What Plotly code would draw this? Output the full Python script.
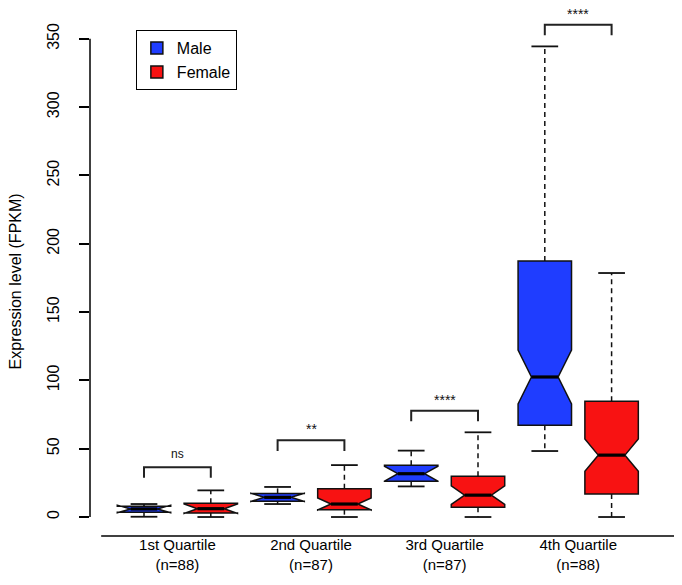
import plotly.graph_objects as go

# ---- data ----
groups = ["1st Quartile", "2nd Quartile", "3rd Quartile", "4th Quartile"]
group_n = [88, 87, 87, 88]

male_min = [0.2, 9.5, 22.4, 48.3]
male_q1 = [3.4, 11.5, 26.1, 67.1]
male_med = [5.9, 14.4, 31.7, 102.5]
male_q3 = [7.8, 17.3, 37.8, 187.4]
male_max = [9.5, 22.0, 48.6, 344.5]
male_notch = [2.8, 3.0, 5.5, 19.7]

female_min = [0.0, 0.0, 0.0, 0.0]
female_q1 = [2.9, 5.4, 7.1, 16.8]
female_med = [6.1, 9.5, 16.0, 45.3]
female_q3 = [10.0, 20.7, 29.8, 84.7]
female_max = [19.5, 38.0, 62.0, 178.6]
female_notch = [3.5, 4.4, 6.8, 11.8]

sig_labels = ["ns", "**", "****", "****"]
bracket_top = [36.4, 56.1, 77.8, 360.4]

y_ticks = [0, 50, 100, 150, 200, 250, 300, 350]

# ---- styling ----
FONT = "Liberation Sans, Arial, sans-serif"
BLUE = "#1f3dff"
RED = "#f81212"
BOX_W = 0.8
CAP_HALF = 0.2
MED_HALF = 0.2
LEG_DROP = 7.7

male_x = [2 * i + 1 for i in range(len(groups))]
female_x = [2 * i + 2 for i in range(len(groups))]
group_x = [2 * i + 1.5 for i in range(len(groups))]

fig = go.Figure()


def add_sex(name, xs, q1, med, q3, lo, hi, notch, color):
    fig.add_trace(go.Box(
        name=name, x=xs, q1=q1, median=med, q3=q3,
        lowerfence=q1, upperfence=q3, notched=True, notchspan=notch,
        notchwidth=0.25, width=BOX_W, whiskerwidth=0, boxpoints=False,
        fillcolor=color, line=dict(color="#111111", width=1.5),
        hoverinfo="skip"))
    wx, wy, cx, cy, mx, my = [], [], [], [], [], []
    for x, a, b, c, d, m in zip(xs, lo, q1, q3, hi, med):
        wx += [x, x, None, x, x, None]
        wy += [c, d, None, b, a, None]
        cx += [x - CAP_HALF, x + CAP_HALF, None, x - CAP_HALF, x + CAP_HALF, None]
        cy += [d, d, None, a, a, None]
        mx += [x - MED_HALF, x + MED_HALF, None]
        my += [m, m, None]
    fig.add_trace(go.Scatter(x=wx, y=wy, mode="lines", showlegend=False,
                             hoverinfo="skip",
                             line=dict(color="#111111", width=1.5, dash="5px,4px")))
    fig.add_trace(go.Scatter(x=cx, y=cy, mode="lines", showlegend=False,
                             hoverinfo="skip",
                             line=dict(color="#111111", width=1.8)))
    fig.add_trace(go.Scatter(x=mx, y=my, mode="lines", showlegend=False,
                             hoverinfo="skip",
                             line=dict(color="#000000", width=3.2)))


add_sex("Male", male_x, male_q1, male_med, male_q3, male_min, male_max, male_notch, BLUE)
add_sex("Female", female_x, female_q1, female_med, female_q3, female_min, female_max, female_notch, RED)

# significance brackets
bx, by = [], []
for xm, xf, top in zip(male_x, female_x, bracket_top):
    bx += [xm, xm, xf, xf, None]
    by += [top - LEG_DROP, top, top, top - LEG_DROP, None]
fig.add_trace(go.Scatter(x=bx, y=by, mode="lines", showlegend=False,
                         hoverinfo="skip", cliponaxis=False,
                         line=dict(color="#222222", width=2)))
for gx, top, lab in zip(group_x, bracket_top, sig_labels):
    is_star = lab.startswith("*")
    fig.add_annotation(x=gx, y=top, text=lab, showarrow=False, yanchor="bottom",
                       yshift=1 if is_star else 4,
                       font=dict(family=FONT, size=14 if is_star else 12, color="#111111"))

# axis lines (R style: y axis spans only tick range)
fig.add_shape(type="line", xref="paper", yref="y", x0=0, x1=0,
              y0=y_ticks[0], y1=y_ticks[-1], line=dict(color="black", width=1.5))
fig.add_shape(type="line", xref="paper", yref="paper", x0=0.019, x1=1,
              y0=0, y1=0, line=dict(color="black", width=1.5))

fig.add_annotation(text="Expression level (FPKM)", textangle=-90, showarrow=False,
                   xref="paper", yref="paper", x=-0.126, y=0.482,
                   xanchor="center", yanchor="middle",
                   font=dict(family=FONT, size=16, color="black"))

fig.update_layout(
    width=682, height=585,
    margin=dict(l=82, r=12, t=0, b=57),
    paper_bgcolor="white", plot_bgcolor="white",
    boxmode="overlay",
    font=dict(family=FONT, size=15, color="black"),
    showlegend=True,
    legend=dict(x=0.078, y=0.958, xanchor="left", yanchor="top",
                bordercolor="black", borderwidth=1, bgcolor="white",
                font=dict(family=FONT, size=16, color="black"),
                tracegroupgap=0),
    xaxis=dict(range=[0.1916, 8.994], showgrid=False, zeroline=False,
               showline=False, ticks="", ticklabelstandoff=-2,
               tickmode="array", tickvals=group_x,
               ticktext=[f"{g}<br>(n={n})" for g, n in zip(groups, group_n)],
               tickfont=dict(family=FONT, size=15, color="black")),
    yaxis=dict(range=[-13.9, 372.6], showgrid=False, zeroline=False,
               showline=False, ticks="outside", ticklen=10, tickwidth=1.5,
               tickcolor="black", tickmode="array", tickvals=y_ticks,
               ticktext=[str(v) for v in y_ticks], tickangle=-90,
               ticklabelstandoff=14,
               tickfont=dict(family=FONT, size=16, color="black")),
)

fig.write_html("out.html")
